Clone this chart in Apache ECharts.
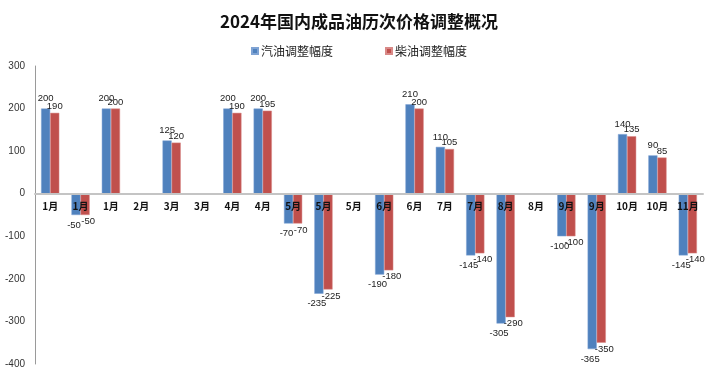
<!DOCTYPE html>
<html><head><meta charset="utf-8">
<script src="https://cdn.jsdelivr.net/npm/echarts@6/dist/echarts.min.js"></script>
<style>html,body{margin:0;padding:0;background:#fff}#c{width:718px;height:384px}</style>
</head><body><div id="c"></div>
<script>
var categories = ['1月','1月','1月','2月','3月','3月','4月','4月','5月','5月','5月','6月','6月','7月','7月','8月','8月','9月','9月','10月','10月','11月'];
var gasoline = [200,-50,200,0,125,0,200,200,-70,-235,0,-190,210,110,-145,-305,0,-100,-365,140,90,-145];
var diesel   = [190,-50,200,0,120,0,190,195,-70,-225,0,-180,200,105,-140,-290,0,-100,-350,135,85,-140];
var yTicks = [-400,-300,-200,-100,0,100,200,300];

function items(arr, dist, negShift){
  return arr.map(function(v){
    return {value:v, label:{show:v!==0, position: v<0?'bottom':'top', distance: dist,
      offset: v<0?[negShift,0]:[0,0]}};
  });
}
var chart = echarts.init(document.getElementById('c'), null, {renderer:'canvas'});
var lbl = {fontSize:9.5, color:'#222', fontFamily:'Liberation Sans, Arial, sans-serif'};
chart.setOption({
  animation:false,
  backgroundColor:'#fff',
  title:{text:'2024年国内成品油历次价格调整概况', left:'center', top:8,
    textStyle:{fontSize:17, fontWeight:'bold', color:'#111', fontFamily:'Noto Sans CJK SC'}},
  legend:{top:40, left:'center', itemWidth:6, itemHeight:6, itemGap:52, icon:'rect',
    textStyle:{fontSize:12, color:'#222', fontFamily:'Noto Sans CJK SC', padding:[0,0,0,-2]},
    data:['汽油调整幅度','柴油调整幅度']},
  grid:{left:35, right:15, top:66, bottom:20, containLabel:false},
  xAxis:{type:'category', data:categories, z:10, position:'bottom', offset:-170,
    axisLine:{onZero:false, lineStyle:{color:'#c4c4c4', width:2}},
    axisTick:{show:false},
    axisLabel:{fontSize:10, fontWeight:'bold', color:'#111', margin:7, interval:0,
      fontFamily:'Noto Sans CJK SC'}},
  yAxis:{type:'value', min:-400, max:300, interval:100,
    axisLine:{show:true, lineStyle:{color:'#9a9a9a', width:1}},
    axisTick:{show:false},
    splitLine:{show:false},
    axisLabel:{fontSize:10, color:'#333', margin:10, fontFamily:'Liberation Sans, Arial, sans-serif'}},
  series:[
    {name:'汽油调整幅度', type:'bar', data:items(gasoline, 5, -2), barGap:'0%', barCategoryGap:'40%',
      itemStyle:{color:'#4f81bd', borderColor:'#7fa3d4', borderWidth:0.5}, label:lbl},
    {name:'柴油调整幅度', type:'bar', data:items(diesel, 1.5, 3), barGap:'0%', barCategoryGap:'40%',
      itemStyle:{color:'#c0504d', borderColor:'#d98a88', borderWidth:0.5}, label:lbl}
  ]
});
</script></body></html>
